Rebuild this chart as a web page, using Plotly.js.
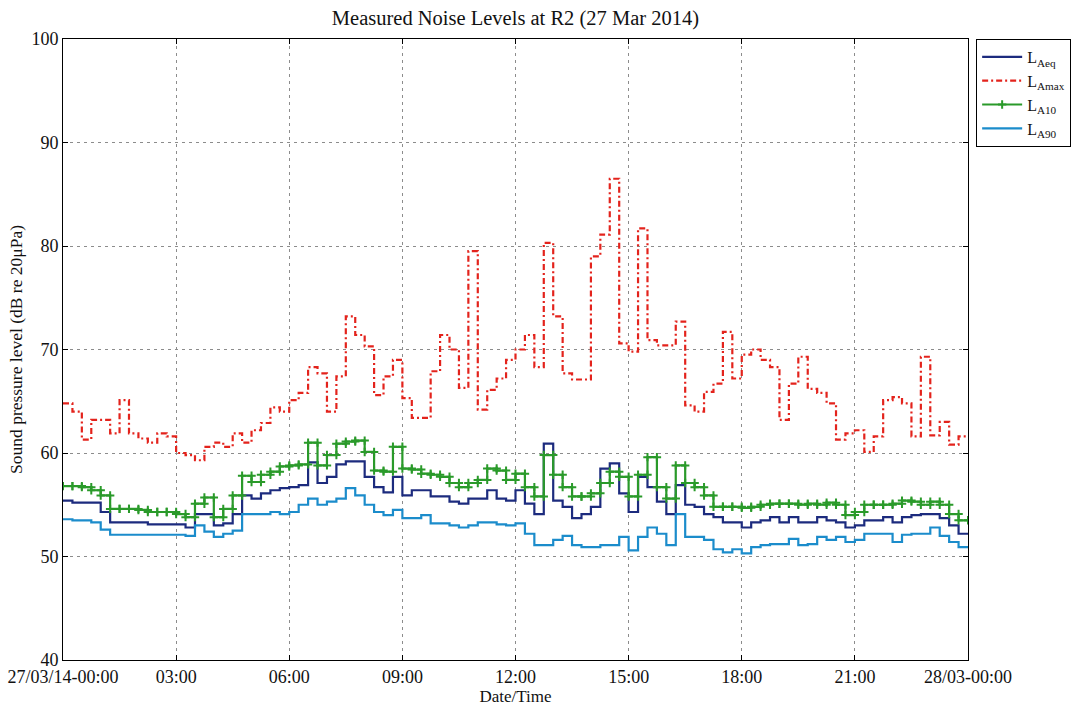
<!DOCTYPE html>
<html>
<head>
<meta charset="utf-8">
<script src="https://cdn.plot.ly/plotly-3.0.1.min.js"></script>
<style>
  html, body { margin: 0; padding: 0; background: #ffffff; }
  #chart { width: 1084px; height: 708px; }
</style>
</head>
<body>
<div id="chart"></div>
<script>
// 15-minute logging intervals across 27 Mar 2014 (hours from midnight)
const intervalHours = 0.25;

// Equivalent continuous level per interval, dB(A)
const laeq = [
  55.4, 55.2, 55.2, 55.2, 54.3, 53.3, 53.3, 53.3, 53.3, 53.1, 53.1, 53.1,
  53.1, 52.8, 54.1, 54.1, 53.0, 53.2, 54.1, 55.9, 55.6, 56.1, 56.4, 56.6,
  56.7, 56.9, 59.1, 57.1, 57.7, 58.9, 59.2, 59.2, 57.7, 56.7, 56.2, 57.7,
  55.9, 56.4, 56.4, 55.8, 55.8, 55.3, 55.1, 55.6, 55.6, 56.4, 55.6, 55.4,
  56.4, 55.1, 54.1, 60.9, 55.4, 54.8, 53.7, 54.1, 54.8, 58.5, 59.0, 56.1,
  54.3, 57.7, 56.7, 55.3, 54.1, 56.9, 55.0, 54.8, 54.1, 53.8, 53.3, 53.3,
  52.8, 53.3, 53.5, 53.8, 53.3, 53.8, 53.3, 53.3, 53.8, 53.5, 53.3, 52.8,
  53.0, 53.5, 53.5, 53.8, 53.3, 53.8, 54.0, 54.1, 54.1, 53.7, 53.0, 52.2
];

// Maximum level per interval, dB(A)
const lamax = [
  64.8, 64.0, 61.3, 63.2, 63.2, 61.9, 65.1, 61.9, 61.4, 61.0, 61.9, 61.6,
  60.0, 59.8, 59.3, 60.6, 61.0, 60.6, 61.9, 61.0, 62.2, 62.9, 64.4, 64.0,
  65.1, 65.8, 68.3, 67.7, 64.0, 67.4, 73.2, 71.4, 70.3, 65.6, 67.4, 69.0,
  65.3, 63.4, 63.4, 67.9, 71.4, 70.0, 66.3, 79.5, 64.2, 66.1, 67.2, 69.0,
  70.0, 71.4, 68.3, 80.3, 73.2, 67.7, 67.1, 67.1, 79.0, 81.1, 86.5, 70.6,
  69.8, 81.7, 70.9, 70.4, 70.4, 72.7, 64.6, 64.0, 65.9, 66.7, 71.7, 67.2,
  69.5, 70.0, 69.0, 68.3, 63.2, 66.7, 69.3, 66.2, 65.8, 64.8, 61.3, 61.9,
  62.2, 60.1, 61.6, 65.1, 65.4, 64.8, 61.6, 69.3, 61.7, 63.0, 60.8, 61.6
];

// Level exceeded 10% of the interval, dB(A)
const la10 = [
  56.8, 56.8, 56.7, 56.4, 55.9, 54.6, 54.6, 54.6, 54.5, 54.3, 54.3, 54.3,
  54.1, 53.8, 55.1, 55.7, 53.8, 54.6, 55.9, 57.8, 57.2, 57.9, 58.2, 58.7,
  58.8, 58.9, 61.0, 58.8, 59.8, 60.9, 61.1, 61.2, 60.1, 58.3, 58.2, 60.6,
  58.5, 58.4, 58.0, 57.9, 57.7, 57.1, 56.7, 57.1, 57.4, 58.5, 58.3, 57.4,
  58.0, 56.7, 55.8, 59.8, 57.9, 56.7, 55.8, 55.8, 56.1, 57.1, 58.2, 57.7,
  55.8, 57.9, 59.6, 56.7, 55.6, 58.8, 57.1, 56.7, 55.9, 54.8, 54.8, 54.8,
  54.7, 54.8, 55.0, 55.1, 55.1, 55.1, 55.0, 55.1, 55.0, 55.2, 55.0, 54.0,
  54.3, 55.0, 55.0, 55.0, 55.1, 55.4, 55.3, 55.0, 55.3, 55.0, 54.1, 53.5
];

// Level exceeded 90% of the interval, dB(A)
const la90 = [
  53.6, 53.5, 53.5, 53.3, 52.6, 52.1, 52.1, 52.1, 52.1, 52.1, 52.1, 52.1,
  52.1, 52.0, 53.0, 52.4, 51.9, 52.2, 52.5, 54.1, 54.1, 54.1, 54.3, 54.1,
  54.3, 55.0, 55.6, 55.0, 55.3, 55.6, 56.6, 55.9, 55.0, 54.3, 54.0, 54.5,
  53.7, 53.7, 54.0, 53.2, 53.2, 53.0, 52.8, 53.0, 53.3, 53.3, 53.1, 53.0,
  53.2, 52.2, 51.1, 51.1, 51.6, 52.0, 51.1, 50.9, 50.9, 51.1, 51.1, 51.9,
  50.6, 51.9, 52.8, 52.2, 51.1, 54.1, 51.9, 51.9, 51.6, 50.7, 50.4, 50.7,
  50.3, 50.9, 51.1, 51.2, 51.2, 51.7, 51.1, 51.2, 51.9, 51.6, 51.9, 51.4,
  51.6, 52.2, 52.2, 52.2, 51.4, 52.1, 52.2, 52.2, 52.8, 52.0, 51.4, 50.9
];

const tickHours = [0, 3, 6, 9, 12, 15, 18, 21, 24];
const tickLabels = ['27/03/14-00:00', '03:00', '06:00', '09:00', '12:00',
                    '15:00', '18:00', '21:00', '28/03-00:00'];

// Stair path: each interval value held from its start to its end,
// so every corner of the staircase is a vertex of the trace.
function stairs(values) {
  const x = [], y = [];
  values.forEach((v, i) => {
    x.push(i * intervalHours, (i + 1) * intervalHours);
    y.push(v, v);
  });
  return { x, y };
}

const serif = 'Liberation Serif, Times New Roman, serif';

const sEq = stairs(laeq), sMax = stairs(lamax), s10 = stairs(la10), s90 = stairs(la90);

const traces = [
  { x: sEq.x, y: sEq.y, name: 'L<sub>Aeq</sub>', mode: 'lines',
    line: { color: '#1c2b7e', width: 2.2 } },
  { x: sMax.x, y: sMax.y, name: 'L<sub>Amax</sub>', mode: 'lines',
    line: { color: '#e3231c', width: 2.2, dash: '6px,3px,2px,3px' } },
  { x: s10.x, y: s10.y, name: 'L<sub>A10</sub>', mode: 'lines+markers',
    line: { color: '#2a9a2a', width: 2.2 },
    marker: { symbol: 'cross-thin', size: 6, color: '#2a9a2a',
              line: { color: '#2a9a2a', width: 2 } } },
  { x: s90.x, y: s90.y, name: 'L<sub>A90</sub>', mode: 'lines',
    line: { color: '#1b8ccb', width: 2.2 } }
];

const gridStyle = { showgrid: true, gridcolor: '#8c8c8c', gridwidth: 1, griddash: '3px,4px' };

const layout = {
  width: 1084, height: 708,
  margin: { l: 63, r: 116, t: 39, b: 48 },
  paper_bgcolor: '#ffffff', plot_bgcolor: '#ffffff',
  font: { family: serif, size: 17, color: '#111111' },
  title: { text: 'Measured Noise Levels at R2 (27 Mar 2014)',
           font: { family: serif, size: 20.5, color: '#111111' },
           x: 0.4755, xanchor: 'center', y: 0.975, yanchor: 'middle' },
  xaxis: Object.assign({
    range: [0, 24], tickmode: 'array', tickvals: tickHours, ticktext: tickLabels,
    ticks: 'inside', ticklen: 5, tickcolor: '#000', showline: true, linecolor: '#000',
    linewidth: 1, mirror: 'ticks', zeroline: false,
    tickfont: { family: serif, size: 18, color: '#111' },
    title: { text: 'Date/Time', font: { family: serif, size: 17, color: '#111' }, standoff: 0 }
  }, gridStyle),
  yaxis: Object.assign({
    range: [40, 100], tickmode: 'linear', tick0: 40, dtick: 10,
    ticks: 'inside', ticklen: 5, tickcolor: '#000', showline: true, linecolor: '#000',
    linewidth: 1, mirror: 'ticks', zeroline: false,
    tickfont: { family: serif, size: 18, color: '#111' },
    title: { text: 'Sound pressure level (dB re 20\u03bcPa)',
             font: { family: serif, size: 17.5, color: '#111' }, standoff: 4 }
  }, gridStyle),
  showlegend: true,
  legend: {
    x: 1.009, xanchor: 'left', y: 1.0, yanchor: 'top',
    bgcolor: '#ffffff', bordercolor: '#000000', borderwidth: 1,
    font: { family: serif, size: 16, color: '#111' },
    itemwidth: 40, tracegroupgap: 0
  }
};

Plotly.newPlot('chart', traces, layout, { displayModeBar: false, staticPlot: true });
</script>
</body>
</html>
